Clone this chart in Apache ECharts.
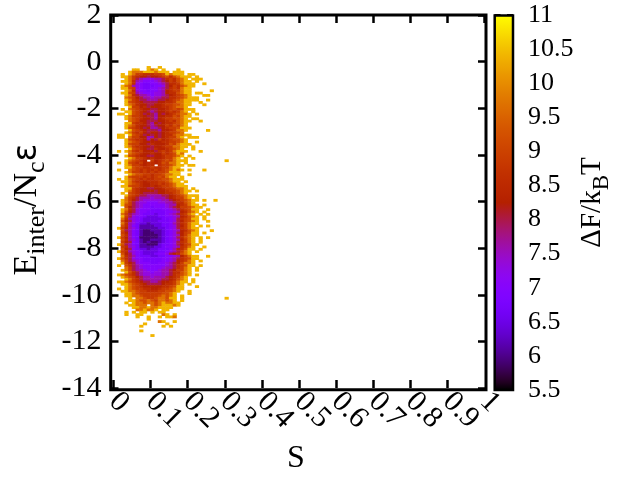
<!DOCTYPE html>
<html><head><meta charset="utf-8">
<style>html,body{margin:0;padding:0;background:#fff}#c{width:640px;height:480px}</style>
<script src="https://cdn.jsdelivr.net/npm/echarts@6/dist/echarts.min.js"></script>
</head><body><div id="c"></div>
<script>
// Free-energy code letters, mapped to values of dF/kBT
const levelValues = {a:5.9,b:6.15,c:6.45,d:6.75,e:7.0,f:7.3,g:7.6,h:8.0,i:8.3,j:8.6,k:8.9,l:9.2,m:9.7,n:10.4};
// One string per energy row (top row is -0.2..-0.3, step 0.1); one character per S bin (step 0.01)
const rows = [
".........n..n",
".....nn..nmn.n...n",
"....nmmmnnnmnnn.nnn",
"..n.nmkkjjjkklnmnnn.nn",
"..nnmkjiihiijkljlmnnn.n",
"...nmkhgfffgghjkjlmn.nnn",
"..nnmjgfeeefghikjlmnn.n",
"...nmjfeddeefghjjkmnnn..n",
"..nmlgfedddeefhikjlmnn",
"..nnlkfeddeefghjkjmnn",
"...nmjfeedeefgijkkmnn.....n",
"..nnlkgfeeeffgijjlmnn.nn",
"...nmjhggfeffghijklmn...nn",
"...mlkihggfgghhjjklmnnn",
"...nmkjhhggghhijklmnnnn..n",
"...nlkjihhhhiijjkmmnn..n",
"...nmljiihhiijkkllmnn...n",
"....nkkijhiiijjklmmn",
"..n.mlkjiihhiijklklnnn",
"...nnlkjihghiijkjkmn.n",
".nn.nlkjhihgihijklmmn.n",
"...nmkkjihhgiijjlkmnn",
"...nmlkjiihgijkkllmn.nn",
"....mlkiihhhiijkjlmnn..n",
"...nnkjjihgihijjklmn",
"...nmljiihghiikjlkmn",
"...nlkjihigghijkklnnn",
"....nlkjihhhgiijkmmn.....n",
"...nmkjkihiihijkklm",
".nn.nlkjhihihijjlmmnn",
".nn.mkkiiggihijkkmn.nnn",
"...nlkjjigihkijkllmn",
"...nmlkjiiiiijjkklmn..n",
"...nlkkiihjiiijlkmnnn",
"...nmkjjiihiijkkmmnn.n",
"....nlkjihhjiijklmn..n",
".n.nmkjkiiihjkjkmnnn...n",
"....mlkjiijiikjklnm",
"...nlkjiihhiijkklmn.n",
"....nmkkjijiijkkmn.n.n",
"...nmlkji.kijklkmnnn..........n",
".n.nlkjkijjijlkmmn.n",
"...nmkkjijj.jkklmnn.nn",
"...nnlkkjjkjjkkmnn",
".n..mlkjkjjkjklmnmn.n...n",
"...nmkkjkjkjkklnnn",
"....nmllkkjkklmmnn..n",
"...nlkkkjkjklkmnn.n",
".n.nmlkjkjjkkllmnnn",
"..nnmkjjijjjkklmnn.n",
"...nmlkjiijjkjklmnn",
"..nnlkkjiijijkklmnnn",
"...nnkjiihhiijkklmmn.n",
"...nmkjiiiihiijkklmnn.n",
"..n.lkjihhhhiijjklmn",
"...nlkjhhgggghhijklmnnn",
"...mkjhgggfggghijkkmn.n",
"..nmkihgfffffgghijklmnn.n..n",
"..nmkhgffeeeffgghjjlmn",
"..nlkhgfeeeeeefggijkmnn.n",
"...lihgfeedeeefghikklmnn",
"..nmjhfeeedddeefghjklnn..n",
"..nlihfeedddddeefgijlmn.n",
"..mkhgfedddcddefghjkmn.n.n",
"..nkhfeedcccddeefgijlmn.n",
"..mjgfedcccccddefhjklnn.n",
"..lihfedccccdddefhiklmn..n",
"..mjgfdccbcccddeghjkmnn",
"..ljgedbbbbccddefhikmn.n.n",
".nkigfdbbbbbccdefhjkmnn",
"..lhgedbaabbbcdefgijlmn...n",
"..kigedbaaabbcdefhiklnn.n",
"..ljgedbaaaabcdefgikmnn",
".nkigedaaaaabcdefhjlmn.n.n",
"..ljgfdbaabbbcdefgikmn.n",
"..kihedbabaabcdefhjkmn.n",
".nlhgedbbaaacddefhiklnn",
"..kjgfdbbbbccdeefgjkmn..n",
"..lihedccbccdddegijlnn.n",
".nkjgfedccccddefghkmn.n",
"..lihfedcccdeefhijlmn",
"..mjhgedddccddeefgikmnn..n",
".nljhfeedddddeefghjklnn",
"..mkhgfedddddeefgijkmn.n",
"..nkihfeeeddeefghikmmn",
".n.ljhgfeeeeeefghjklnn.n",
"...mkhgfeeeeefgghjkmn.n",
"..nmkhggfeeefgghikkmn.n",
"...nljhgffeffgghjjlmn",
".nmlkjhgfffffgghjklmn.n",
"..nmlkihggfggghijkmn",
"...nmkjhggggghhijlmn.n",
".nnmlkjihhgghiijkmnn.n",
"..nnmlkjihhhhijjkmn.n",
"...nmlkjiiiiijjklnn...n",
".n.nmlkkjjiijkklmnn",
"..nnmmlkkjjjkkllmn..n",
"...nnmlkkkkkkllmn...n",
"...nnmmlkkkklmlmn.n",
"....n.mmlkklmmlnn.n...........n",
"....nnmllmlkmmlmn.n",
"...n.nmmlmmlmnmmnn",
"....nnmmm.mlmnnnmn",
".....nnmmnmmnnnn",
"......mmnmmn.nn",
"...n.n.nn.n.nn",
"...n..nn.....mn.n",
"......n..n..n.nnm",
".........n",
"............mn..n",
"........n.....n",
".......n.....n.n",
"",
".......n",
"",
"..........n"
];
const xTicksMax = 1, yMin = -14, yMax = 2, cbMin = 5.5, cbMax = 11;
const xBins = Array.from({length:100},(_,i)=>(i/100).toFixed(2));
const yBins = Array.from({length:160},(_,i)=>(-14+i/10).toFixed(1));

const cells = [];
rows.forEach((row,r)=>{ for(let k=0;k<row.length;k++){ const v=levelValues[row[k]]; if(v!==undefined) cells.push([k,137-r,v]); } });

// gnuplot rgbformulae 7,5,15 colour ramp
const ramp=[];for(let i=0;i<=40;i++){const t=i/40;const c=x=>Math.round(255*Math.max(0,Math.min(1,x)));
 ramp.push(`rgb(${c(Math.sqrt(t))},${c(t*t*t)},${c(Math.sin(2*Math.PI*t))})`);}

const F='"Liberation Serif","Times New Roman",serif';
const big={fontFamily:F,fontSize:34,color:'#000',padding:[0,0,7,0],verticalAlign:'bottom'};
const sub={fontFamily:F,fontSize:26,color:'#000',verticalAlign:'bottom'};
const eps={fontFamily:'"DejaVu Sans"',fontSize:33,color:'#000',padding:[0,0,7,0],verticalAlign:'bottom'};
const noLine={show:false,onZero:false};
const tick={show:true,inside:true,length:8,lineStyle:{color:'#000',width:2.5}};
const xLabel={rotate:-45,fontFamily:F,fontSize:30,color:'#000',margin:9,align:'left',verticalAlign:'middle',hideOverlap:false};
const L=113.5,T=15,W=371,H=375;

const chart=echarts.init(document.getElementById('c'),null,{renderer:'canvas'});
chart.setOption({
 animation:false,backgroundColor:'#fff',
 grid:[{left:L,top:T,width:W,height:H},{left:494.5,top:T,width:18.5,height:H}],
 xAxis:[
  {type:'category',data:xBins,gridIndex:0,show:false},
  {type:'value',gridIndex:0,position:'bottom',min:0,max:xTicksMax,interval:0.1,splitLine:{show:false},axisLine:noLine,axisTick:tick,
   axisLabel:Object.assign({},xLabel,{showMinLabel:true,showMaxLabel:false}),
   name:'S',nameLocation:'middle',nameGap:55,nameTextStyle:{fontFamily:F,fontSize:32,color:'#000',padding:[0,6,0,0]}},
  {type:'value',gridIndex:0,position:'top',min:0,max:xTicksMax,interval:0.1,splitLine:{show:false},axisLine:noLine,axisTick:tick,axisLabel:{show:false}},
  {type:'value',gridIndex:1,show:false,min:0,max:1,axisLine:{onZero:false}},
  {type:'value',gridIndex:0,position:'bottom',min:0,max:xTicksMax,interval:xTicksMax,splitLine:{show:false},axisLine:noLine,axisTick:{show:false},
   axisLabel:Object.assign({},xLabel,{showMinLabel:false,showMaxLabel:true})}
 ],
 yAxis:[
  {type:'category',data:yBins,gridIndex:0,show:false},
  {type:'value',gridIndex:0,position:'left',offset:3,min:yMin,max:yMax,interval:2,splitLine:{show:false},axisLine:noLine,axisTick:tick,
   axisLabel:{fontFamily:F,fontSize:30,color:'#000',margin:9,hideOverlap:false,padding:[6,0,0,0],showMinLabel:true,showMaxLabel:true},
   name:'{b|E}{s|inter}{b|/N}{s|c}{e|ε}',nameLocation:'middle',nameRotate:90,nameGap:59,
   nameTextStyle:{rich:{b:big,s:sub,e:eps},padding:[0,16,0,0]}},
  {type:'value',gridIndex:0,position:'right',offset:1.5,min:yMin,max:yMax,interval:2,splitLine:{show:false},axisLine:noLine,axisTick:tick,axisLabel:{show:false}},
  {type:'value',gridIndex:1,position:'right',min:cbMin,max:cbMax,interval:0.5,splitLine:{show:false},axisLine:noLine,
   axisTick:{show:true,inside:true,length:6,lineStyle:{color:'#000',width:2}},
   axisLabel:{fontFamily:F,fontSize:26,color:'#000',margin:15,hideOverlap:false,formatter:v=>String(v),padding:[2,0,0,0],showMinLabel:true,showMaxLabel:true},
   name:'{b|ΔF/k}{s|B}{b|T}',nameLocation:'middle',nameRotate:90,nameGap:41,
   nameTextStyle:{rich:{b:Object.assign({},big,{fontSize:29}),s:Object.assign({},sub,{fontSize:23})}}},
  {type:'value',gridIndex:1,position:'left',min:cbMin,max:cbMax,interval:0.5,splitLine:{show:false},axisLine:noLine,
   axisTick:{show:true,inside:true,length:6,lineStyle:{color:'#000',width:2}},axisLabel:{show:false}}
 ],
 visualMap:{type:'continuous',min:cbMin,max:cbMax,seriesIndex:0,calculable:false,hoverLink:false,
   left:494,top:T,itemWidth:19,itemHeight:H,padding:0,text:null,inRange:{color:ramp},borderWidth:0},
 series:[{type:'heatmap',xAxisIndex:0,yAxisIndex:0,data:cells,progressive:0,silent:true,emphasis:{disabled:true},
   itemStyle:{borderWidth:0}}],
 graphic:[
  {type:'rect',z:100,silent:true,shape:{x:110.7,y:15,width:375.3,height:374.8},style:{fill:null,stroke:'#000',lineWidth:3}},
  {type:'rect',z:100,silent:true,shape:{x:494.7,y:15.5,width:18.3,height:374.5},style:{fill:null,stroke:'#000',lineWidth:2.5}}
 ]
});
</script></body></html>
